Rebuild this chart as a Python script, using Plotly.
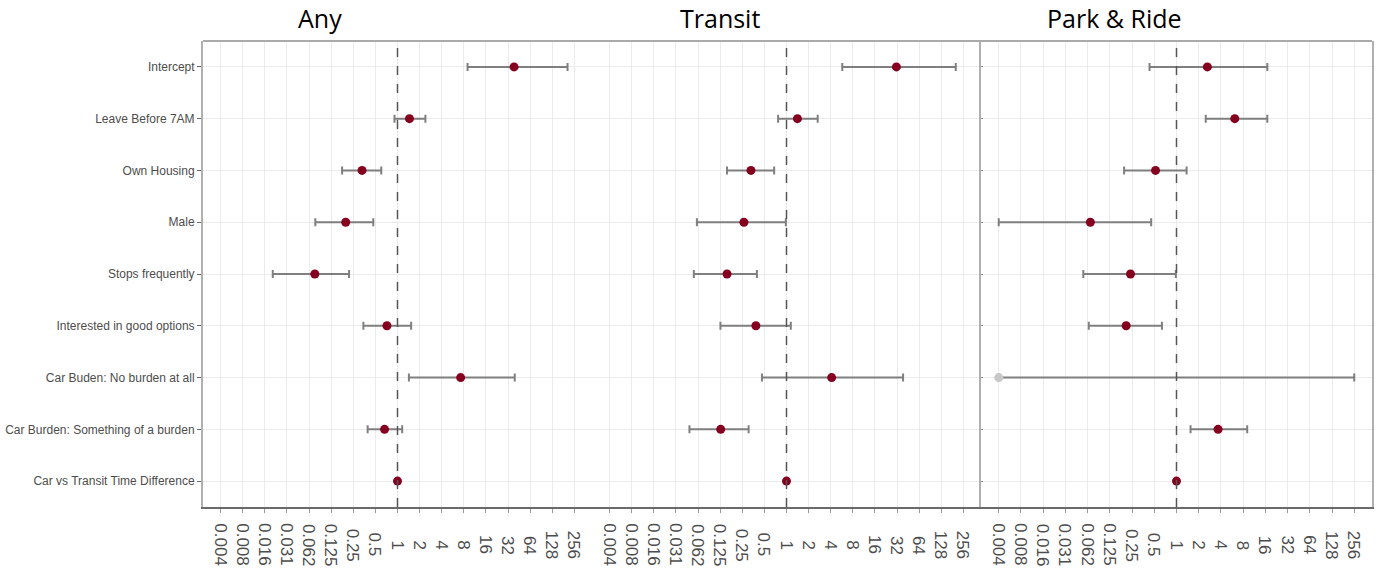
import math
import plotly.graph_objects as go

# ---------------- data ----------------
terms = ["Intercept", "Leave Before 7AM", "Own Housing", "Male", "Stops frequently",
         "Interested in good options", "Car Buden: No burden at all",
         "Car Burden: Something of a burden", "Car vs Transit Time Difference"]

panels = ["Any", "Transit", "Park & Ride"]

any_est = [38.7, 1.455, 0.329, 0.197, 0.0748, 0.718, 7.25, 0.666, 1.0]
any_lo = [9.01, 0.91, 0.176, 0.076, 0.0200, 0.343, 1.43, 0.392, 0.995]
any_hi = [207.0, 2.40, 0.601, 0.468, 0.219, 1.534, 39.5, 1.158, 1.005]

transit_est = [31.4, 1.41, 0.328, 0.263, 0.155, 0.383, 4.12, 0.127, 1.0]
transit_lo = [5.75, 0.769, 0.155, 0.0602, 0.0547, 0.126, 0.463, 0.0477, 0.995]
transit_hi = [202.0, 2.66, 0.679, 0.98, 0.395, 1.144, 38.7, 0.305, 1.005]

pr_est = [2.62, 6.16, 0.520, 0.068, 0.238, 0.208, 0.00390625, 3.66, 1.0]
pr_lo = [0.431, 2.49, 0.195, 0.0039, 0.0546, 0.0647, 0.00390625, 1.55, 0.995]
pr_hi = [17.0, 17.0, 1.37, 0.454, 0.98, 0.635, 256.0, 9.08, 1.005]

tick_exps = list(range(-8, 9))
tick_labels = ["0.004", "0.008", "0.016", "0.031", "0.062", "0.125", "0.25", "0.5", "1",
               "2", "4", "8", "16", "32", "64", "128", "256"]

# ---------------- styling ----------------
W, H = 1384, 578
ML, MR, MT, MB = 203, 12, 41, 71
plot_w = W - ML - MR
plot_h = H - MT - MB
POINT = "#85001f"
POINT_OUT = "#c8c8c8"
BAR = "#7f7f7f"
GRID = "#ebebeb"
TXT = "#4d4d4d"

tick_vals = [2.0 ** k for k in tick_exps]
lim = math.log10(2.0 ** 8.8)
xmin = tick_vals[0]

data_sets = [(any_est, any_lo, any_hi), (transit_est, transit_lo, transit_hi),
             (pr_est, pr_lo, pr_hi)]

px_bounds = [(203, 592), (592, 981), (981, 1372)]
domains = [((a - ML) / plot_w, (b - ML) / plot_w) for a, b in px_bounds]

fig = go.Figure()
for i, (est, lo, hi) in enumerate(data_sets):
    suffix = "" if i == 0 else str(i + 1)
    colors = [POINT_OUT if e <= xmin else POINT for e in est]
    fig.add_trace(go.Scatter(
        x=est, y=terms, mode="markers",
        xaxis="x" + suffix, yaxis="y" + suffix,
        marker=dict(color=colors, size=9, line=dict(width=0)),
        error_x=dict(type="data", symmetric=False,
                     array=[h - e for h, e in zip(hi, est)],
                     arrayminus=[e - l for e, l in zip(est, lo)],
                     color=BAR, thickness=2, width=4),
        showlegend=False, hoverinfo="x+y"))

layout = dict(
    width=W, height=H,
    margin=dict(l=ML, r=MR, t=MT, b=MB, pad=0, autoexpand=False),
    paper_bgcolor="white", plot_bgcolor="white",
    font=dict(family="Liberation Sans, Arial, sans-serif", color=TXT),
    showlegend=False,
)

for i in range(3):
    suffix = "" if i == 0 else str(i + 1)
    layout["xaxis" + suffix] = dict(
        domain=list(domains[i]), anchor="y" + suffix, type="log",
        range=[-lim, lim], tickvals=tick_vals, showticklabels=False,
        ticks="outside", ticklen=4, tickcolor="#9a9a9a", tickwidth=1,
        showgrid=True, gridcolor=GRID, gridwidth=1.2, automargin=False,
        showline=True, linecolor="#6a6a6a", linewidth=1.5, zeroline=False,
    )
    ycfg = dict(
        domain=[0, 1], anchor="x" + suffix, type="category", automargin=False,
        categoryorder="array", categoryarray=terms, range=[8.5, -0.5],
        showgrid=True, gridcolor=GRID, gridwidth=1.2, zeroline=False,
    )
    if i == 0:
        ycfg.update(showline=True, linecolor="#b0b0b0", linewidth=2,
                    ticks="outside", ticklen=4, tickcolor="#6a6a6a",
                    tickfont=dict(family="Liberation Sans, Arial", size=12, color=TXT))
    elif i == 1:
        ycfg.update(matches="y", showticklabels=False, ticks="", showline=False)
    else:
        ycfg.update(matches="y", showticklabels=False, ticks="inside", ticklen=2,
                    tickcolor="#8a8a8a", showline=True, mirror=True,
                    linecolor="#b0b0b0", linewidth=2)
    layout["yaxis" + suffix] = ycfg

fig.update_layout(**layout)

shapes = []
# top frame line
shapes.append(dict(type="line", xref="paper", yref="paper", x0=0, x1=1, y0=1, y1=1,
                   line=dict(color="#aaaaaa", width=2)))
annotations = []
for i in range(3):
    suffix = "" if i == 0 else str(i + 1)
    shapes.append(dict(type="line", xref="x" + suffix, yref="paper", x0=1, x1=1,
                       y0=0, y1=1, line=dict(color="#555555", width=1.5, dash="dash")))
    for v, t in zip(tick_vals, tick_labels):
        annotations.append(dict(x=math.log10(v), xref="x" + suffix, y=-(545 - (H - MB)) / plot_h,
                                yref="paper", text=t, showarrow=False, textangle=90,
                                xanchor="center", yanchor="middle",
                                font=dict(family="Liberation Sans, Arial", size=17, color=TXT)))

title_cx = [319.5, 720, 1114]
for name, cx in zip(panels, title_cx):
    annotations.append(dict(x=(cx - ML) / plot_w, xref="paper", y=(H - MB - 37) / plot_h,
                            yref="paper", text=name, showarrow=False,
                            xanchor="center", yanchor="bottom",
                            font=dict(family="Open Sans, sans-serif", size=25, color="black")))

fig.update_layout(shapes=shapes, annotations=annotations)
fig.write_html("out.html", config={"displayModeBar": False},
               post_script="document.body.style.margin='0';document.body.style.overflow='hidden';")
